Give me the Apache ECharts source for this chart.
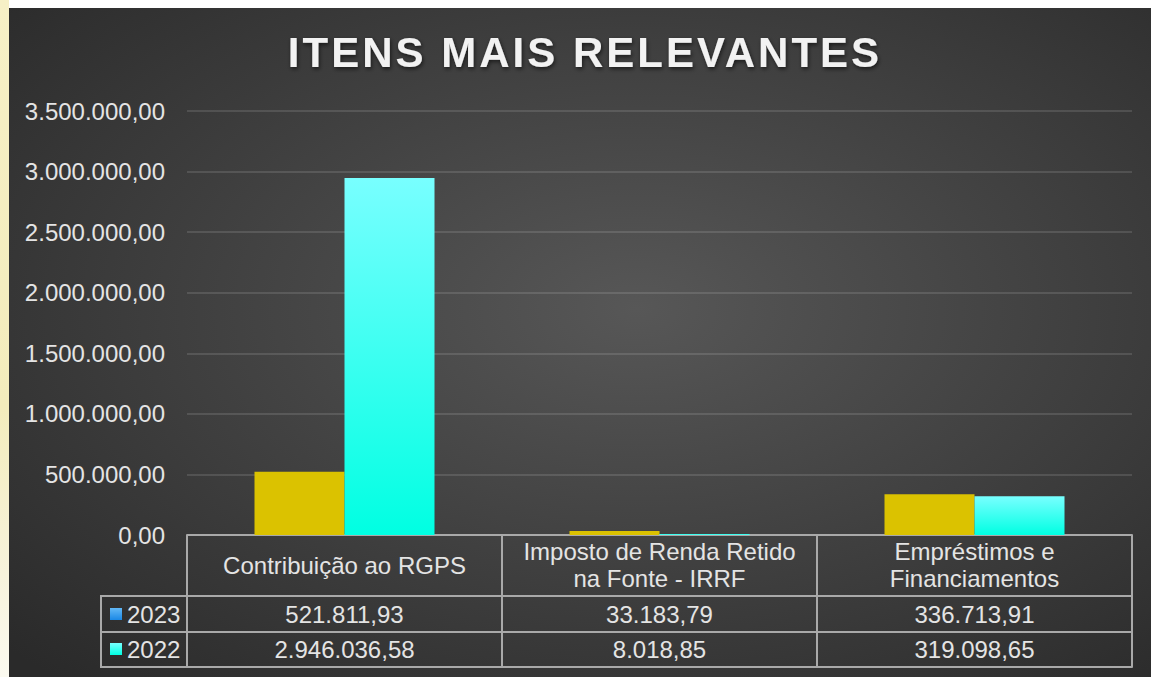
<!DOCTYPE html>
<html>
<head>
<meta charset="utf-8">
<script src="https://cdn.jsdelivr.net/npm/echarts@6/dist/echarts.min.js"></script>
<style>
  html, body { margin: 0; padding: 0; width: 1151px; height: 677px; overflow: hidden; background: #ffffff; }
  #strip { position: absolute; left: 0; top: 0; width: 9px; height: 677px;
           background: linear-gradient(180deg, #f6f0c6 0%, #f3ecbc 60%, #f7f3dc 85%, #fbfaf0 100%); }
  #chart { position: absolute; left: 9px; top: 8px; width: 1142px; height: 669px; }
</style>
</head>
<body>
<div id="strip"></div>
<div id="chart"></div>
<script>
const titleText = 'ITENS MAIS RELEVANTES';
const categories = ['Contribuição ao RGPS', 'Imposto de Renda Retido\nna Fonte - IRRF', 'Empréstimos e\nFinanciamentos'];
const seriesNames = ['2023', '2022'];
const values2023 = [521811.93, 33183.79, 336713.91];
const values2022 = [2946036.58, 8018.85, 319098.65];
const yMin = 0, yMax = 3500000, yInterval = 500000;

function fmt(v) {
  const s = Number(v).toFixed(2);
  let parts = s.split('.');
  let i = parts[0].replace(/\B(?=(\d{3})+(?!\d))/g, '.');
  return i + ',' + parts[1];
}

const FONT = 'Liberation Sans';
const lineCol = '#a9a9a9';
const txtCol = '#e4e4e4';

const cyanGrad = new echarts.graphic.LinearGradient(0, 0, 0, 1, [
  { offset: 0, color: '#78ffff' }, { offset: 1, color: '#00ffe2' }
]);
const blueGrad = new echarts.graphic.LinearGradient(0, 0, 0, 1, [
  { offset: 0, color: '#62b8f6' }, { offset: 1, color: '#1a88e6' }
]);

const chart = echarts.init(document.getElementById('chart'), null, { renderer: 'svg' });

const option = {
  animation: false,
  backgroundColor: new echarts.graphic.RadialGradient(0.55, 0.45, 0.75, [
    { offset: 0, color: '#575757' }, { offset: 1, color: '#2a2a2a' }
  ]),
  title: {
    text: titleText,
    left: 576,
    textAlign: 'center',
    top: 23,
    padding: 0,
    textStyle: {
      color: '#f2f2f2', fontSize: 42, fontWeight: 'bold', fontFamily: FONT,
      textShadowColor: 'rgba(0,0,0,0.6)', textShadowBlur: 4, textShadowOffsetX: 1, textShadowOffsetY: 2
    }
  },
  legend: {
    orient: 'vertical',
    left: 96,
    top: 589,
    itemWidth: 12,
    itemHeight: 12,
    itemGap: 11,
    selectedMode: false,
    textStyle: { color: txtCol, fontSize: 24, fontFamily: FONT },
    data: [
      { name: seriesNames[0], icon: 'rect', itemStyle: { color: blueGrad } },
      { name: seriesNames[1], icon: 'rect', itemStyle: { color: cyanGrad } }
    ]
  },
  grid: { left: 178, right: 19, top: 103, bottom: 142, containLabel: false },
  xAxis: [
    {
      type: 'category', data: categories, position: 'bottom',
      axisLine: { show: true, lineStyle: { color: lineCol, width: 2 } },
      axisTick: { show: true, alignWithLabel: false, interval: 0, length: 132, lineStyle: { color: lineCol, width: 2 } },
      axisLabel: { interval: 0, margin: 30, verticalAlign: 'middle', color: txtCol, fontSize: 24, lineHeight: 27, fontFamily: FONT }
    },
    {
      type: 'category', data: categories, position: 'bottom', offset: 61,
      axisLine: { show: true, lineStyle: { color: lineCol, width: 2 } },
      axisTick: { show: false },
      axisLabel: { interval: 0, margin: 18, verticalAlign: 'middle', color: txtCol, fontSize: 24, fontFamily: FONT,
        formatter: (v, i) => fmt(values2023[i]) }
    },
    {
      type: 'category', data: categories, position: 'bottom', offset: 97,
      axisLine: { show: true, lineStyle: { color: lineCol, width: 2 } },
      axisTick: { show: false },
      axisLabel: { interval: 0, margin: 17, verticalAlign: 'middle', color: txtCol, fontSize: 24, fontFamily: FONT,
        formatter: (v, i) => fmt(values2022[i]) }
    },
    {
      type: 'category', data: categories, position: 'bottom', offset: 132,
      axisLine: { show: true, lineStyle: { color: lineCol, width: 2 } },
      axisTick: { show: false },
      axisLabel: { show: false }
    }
  ],
  yAxis: {
    type: 'value', min: yMin, max: yMax, interval: yInterval,
    axisLine: { show: false }, axisTick: { show: false },
    axisLabel: { margin: 22, color: txtCol, fontSize: 24, fontFamily: FONT, formatter: v => fmt(v) },
    splitLine: { show: true, lineStyle: { color: 'rgba(255,255,255,0.12)', width: 2 } }
  },
  graphic: [
    { type: 'rect', shape: { x: 92, y: 588, width: 86, height: 71 }, style: { fill: 'none', stroke: lineCol, lineWidth: 2 }, silent: true },
    { type: 'line', shape: { x1: 92, y1: 624, x2: 178, y2: 624 }, style: { stroke: lineCol, lineWidth: 2 }, silent: true }
  ],
  series: [
    { name: seriesNames[0], type: 'bar', xAxisIndex: 0, data: values2023, barWidth: 90, barGap: '0%',
      itemStyle: { color: '#dbc200' } },
    { name: seriesNames[1], type: 'bar', xAxisIndex: 0, data: values2022, barWidth: 90, barGap: '0%',
      itemStyle: { color: cyanGrad } }
  ]
};
chart.setOption(option);

function spaceTitle() {
  document.querySelectorAll('#chart text').forEach(t => {
    if (t.textContent === titleText) t.setAttribute('letter-spacing', '3');
  });
}
spaceTitle();
chart.on('finished', spaceTitle);
</script>
</body>
</html>
